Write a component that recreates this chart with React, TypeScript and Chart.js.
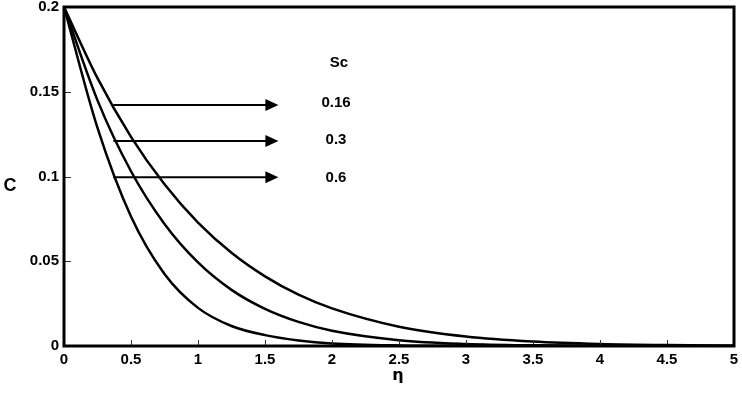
import React, { useEffect, useRef } from "react";
import { Chart, registerables } from "chart.js";

Chart.register(...registerables);

// Similarity variable η
const ETA = [0, 0.25, 0.5, 0.75, 1, 1.25, 1.5, 1.75, 2, 2.5, 3, 3.5, 4, 4.5, 5];

// Concentration profiles C(η) for each Schmidt number
const C_SC_016 = [0.2, 0.158, 0.1234, 0.0954, 0.0728, 0.055, 0.0411, 0.0303, 0.0222, 0.0114, 0.0056, 0.00265, 0.0012, 0.00052, 0.00021];
const C_SC_03 = [0.2, 0.1449, 0.1031, 0.072, 0.0493, 0.0331, 0.0219, 0.0142, 0.009, 0.00344, 0.00122, 0.0004, 0.00012, 0.00003, 0.00001];
const C_SC_06 = [0.2, 0.1287, 0.0764, 0.0425, 0.0225, 0.0118, 0.0064, 0.0033, 0.0015, 0.0003, 0.00005, 0, 0, 0, 0];

const SC_LABELS = ["0.16", "0.3", "0.6"];
// Arrow annotations (data coords): level, start η, tip η
const ARROW_LEVELS = [0.1422, 0.1209, 0.0996];
const ARROW_START = 0.368;
const ARROW_TIP = 1.6;
const LABEL_ETA = 2.03;

const X_TICKS = [0, 0.5, 1, 1.5, 2, 2.5, 3, 3.5, 4, 4.5, 5];
const Y_TICKS = [0, 0.05, 0.1, 0.15, 0.2];

const FONT = "'Liberation Sans', Arial, sans-serif";

const framePlugin = {
  id: "frame",
  afterDraw(chart: any) {
    const { ctx, chartArea: a, scales } = chart;
    const xs = scales.x;
    const ys = scales.y;
    ctx.save();
    // inward tick marks
    ctx.strokeStyle = "#333";
    ctx.lineWidth = 1;
    ctx.beginPath();
    X_TICKS.forEach((t) => {
      const px = Math.round(xs.getPixelForValue(t)) + 0.5;
      ctx.moveTo(px, a.bottom);
      ctx.lineTo(px, a.bottom - 6);
    });
    Y_TICKS.forEach((t) => {
      const py = Math.round(ys.getPixelForValue(t)) + 0.5;
      ctx.moveTo(a.left, py);
      ctx.lineTo(a.left + 7, py);
    });
    ctx.stroke();
    // frame
    ctx.strokeStyle = "#000";
    ctx.lineWidth = 3;
    ctx.strokeRect(a.left, a.top, a.right - a.left, a.bottom - a.top);

    // arrows
    ctx.lineWidth = 2;
    ctx.fillStyle = "#000";
    ARROW_LEVELS.forEach((lv) => {
      const y = ys.getPixelForValue(lv);
      const x0 = xs.getPixelForValue(ARROW_START);
      const x1 = xs.getPixelForValue(ARROW_TIP);
      ctx.beginPath();
      ctx.moveTo(x0, y);
      ctx.lineTo(x1 - 10, y);
      ctx.stroke();
      ctx.beginPath();
      ctx.moveTo(x1, y);
      ctx.lineTo(x1 - 13, y - 6);
      ctx.lineTo(x1 - 13, y + 6);
      ctx.closePath();
      ctx.fill();
    });

    // labels
    ctx.textAlign = "center";
    ctx.textBaseline = "middle";
    ctx.font = `bold 15px ${FONT}`;
    const lx = xs.getPixelForValue(LABEL_ETA);
    ctx.fillText("Sc", lx + 3, ys.getPixelForValue(0.168) + 1.5);
    SC_LABELS.forEach((s, i) => {
      ctx.fillText(s, lx, ys.getPixelForValue(ARROW_LEVELS[i]) - 2.5 + i * 1.5);
    });

    // axis titles
    ctx.font = `bold 18px ${FONT}`;
    ctx.fillText("C", 10, 186);
    ctx.font = `bold 16px 'DejaVu Sans', ${FONT}`;
    ctx.fillText("η", (a.left + a.right) / 2 - 1, 376);
    ctx.restore();
  },
};

export default function App() {
  const ref = useRef<HTMLCanvasElement | null>(null);

  useEffect(() => {
    document.body.style.margin = "0";
    const canvas = ref.current;
    if (!canvas) return;
    const line = (data: number[]) => ({
      data: ETA.map((x, i) => ({ x, y: data[i] })),
      borderColor: "#000",
      borderWidth: 2.5,
      pointRadius: 0,
      fill: false,
      cubicInterpolationMode: "monotone" as const,
    });
    const chart = new Chart(canvas, {
      type: "line",
      data: {
        datasets: [line(C_SC_016), line(C_SC_03), line(C_SC_06)],
      },
      options: {
        animation: false,
        responsive: false,
        maintainAspectRatio: false,
        layout: { padding: { top: 7, right: 8, left: 0, bottom: 0 } },
        plugins: { legend: { display: false }, tooltip: { enabled: false } },
        scales: {
          x: {
            type: "linear",
            min: 0,
            max: 5,
            afterFit: (s: any) => {
              s.height = 50;
              s.paddingLeft = 0;
              s.paddingRight = 0;
            },
            afterBuildTicks: (s: any) => {
              s.ticks = X_TICKS.map((v) => ({ value: v }));
            },
            grid: { display: false, drawTicks: false },
            border: { display: false },
            ticks: {
              color: "#000",
              font: { family: FONT, size: 15, weight: "bold" },
              padding: 5,
              maxRotation: 0,
              autoSkip: false,
              callback: (v: any) => String(Number(Number(v).toFixed(2))),
            },
          },
          y: {
            type: "linear",
            min: 0,
            max: 0.2,
            afterFit: (s: any) => {
              s.width = 64;
              s.paddingTop = 0;
              s.paddingBottom = 0;
            },
            afterBuildTicks: (s: any) => {
              s.ticks = Y_TICKS.map((v) => ({ value: v }));
            },
            grid: { display: false, drawTicks: false },
            border: { display: false },
            ticks: {
              color: "#000",
              font: { family: FONT, size: 15, weight: "bold" },
              padding: 5,
              autoSkip: false,
              callback: (v: any) => String(Number(Number(v).toFixed(2))),
            },
          },
        },
      },
      plugins: [framePlugin],
    });
    return () => chart.destroy();
  }, []);

  return (
    <div style={{ width: 742, height: 396, background: "#fff" }}>
      <canvas ref={ref} width={742} height={396} />
    </div>
  );
}
